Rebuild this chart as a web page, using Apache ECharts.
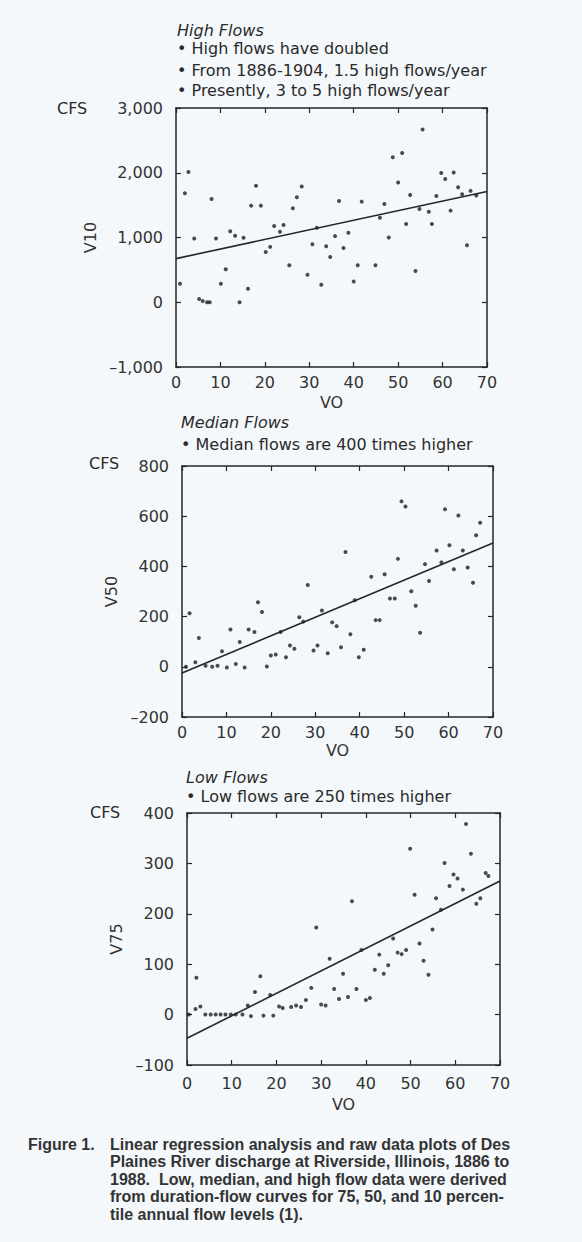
<!DOCTYPE html>
<html>
<head>
<meta charset="utf-8">
<script src="https://cdn.jsdelivr.net/npm/echarts@6/dist/echarts.min.js"></script>
<style>
html,body{margin:0;padding:0;background:#f4f8fb;}
#chart{width:582px;height:1242px;}
</style>
</head>
<body>
<div id="chart"></div>
<script>
// ---------- data ----------
const voHigh = [2.8,2.0,0.9,4.1,5.2,6.0,7.0,7.6,8.0,9.0,10.1,11.2,12.2,13.3,14.3,15.2,16.2,16.9,18.0,19.1,20.2,21.2,22.1,23.4,24.2,25.5,26.3,27.2,28.3,29.6,30.7,31.7,32.7,33.8,34.7,35.8,36.7,37.7,38.8,40.0,40.9,41.8,44.9,45.9,46.9,47.9,48.8,50.0,50.9,51.8,52.7,53.9,54.8,55.5,56.9,57.6,58.6,59.7,60.6,61.8,62.5,63.5,64.4,65.5,66.3,67.6];
const v10 = [2010,1684,285,984,50,20,0,0,1596,984,285,508,1098,1026,0,995,207,1492,1798,1492,777,855,1176,1088,1192,570,1451,1622,1787,425,896,1150,269,865,700,1021,1565,839,1073,321,570,1554,570,1306,1518,1000,2238,1850,2306,1207,1658,482,1440,2668,1399,1207,1642,1995,1902,1415,2005,1777,1668,881,1720,1648];

const voMed = [1.7,0.9,3.0,3.8,5.3,6.8,8.0,9.0,10.1,10.9,12.1,13.0,14.1,15.0,16.3,17.1,18.0,19.1,20.0,21.1,22.2,23.4,24.3,25.3,26.4,27.3,28.3,29.6,30.5,31.5,32.8,33.8,34.8,35.8,36.8,37.9,38.9,39.8,40.9,42.6,43.6,44.5,45.6,46.8,47.9,48.6,49.4,50.3,51.6,52.6,53.6,54.7,55.6,57.3,58.4,59.2,60.2,61.2,62.2,63.2,64.3,65.5,66.2,67.1];
const v50 = [213,0,18,115,4,0,4,62,-3,149,11,99,-3,149,139,257,218,1,45,49,139,38,85,72,197,180,326,65,85,224,54,177,162,78,457,130,265,38,68,359,186,186,369,272,272,430,659,639,301,243,136,409,342,463,416,628,484,389,603,463,396,335,524,574];

const voLow = [2.1,0.4,1.9,3.0,4.1,5.3,6.4,7.5,8.6,9.8,10.9,12.4,13.6,14.3,15.2,16.4,17.1,18.6,19.3,20.6,21.4,23.3,24.4,25.5,26.6,27.8,28.9,30.0,31.0,31.9,32.9,34.0,34.9,36.0,36.9,37.9,39.0,40.0,40.9,42.0,43.0,44.0,45.0,46.1,47.1,48.0,49.0,49.9,50.9,52.0,52.9,54.0,54.9,55.7,56.8,57.6,58.7,59.6,60.5,61.7,62.4,63.5,64.7,65.6,66.8,67.4];
const v75 = [73,0,11,16,0,0,0,0,0,0,0,0,18,-3,45,76,-2,39,-2,16,13,15,18,15,29,53,173,20,18,111,51,31,81,35,225,51,128,29,33,89,119,81,98,151,123,120,128,329,238,141,107,79,169,231,208,301,255,278,270,248,378,319,220,231,281,275];

const fitX = [0, 70];
const fitHigh = [674, 1710];
const fitMed = [-25, 493];
const fitLow = [-47, 265];

const xTicks = {min: 0, max: 70, interval: 10};
const yHigh = {min: -1000, max: 3000, interval: 1000};
const yMed = {min: -200, max: 800, interval: 200};
const yLow = {min: -100, max: 400, interval: 100};

const headerHigh = ['High Flows', '• High flows have doubled', '• From 1886-1904, 1.5 high flows/year', '• Presently, 3 to 5 high flows/year'];
const headerMed = ['Median Flows', '• Median flows are 400 times higher'];
const headerLow = ['Low Flows', '• Low flows are 250 times higher'];
const captionHead = 'Figure 1.';
const captionLines = [
  'Linear regression analysis and raw data plots of Des',
  'Plaines River discharge at Riverside, Illinois, 1886 to',
  '1988.  Low, median, and high flow data were derived',
  'from duration-flow curves for 75, 50, and 10 percen-',
  'tile annual flow levels (1).'
];

// ---------- layout ----------
const FONT = 'DejaVu Sans';
const INK = '#262626';
const grids = [
  {left: 176, top: 108, width: 311, height: 259},
  {left: 182, top: 466, width: 311, height: 251},
  {left: 187, top: 813, width: 313, height: 252}
];
const yNames = ['V10', 'V50', 'V75'];
const yScales = [yHigh, yMed, yLow];
const xNameGaps = [27, 25, 31];
const xLabelMargins = [7, 7, 10];

function fmtNum(v) {
  const s = Math.abs(v).toLocaleString('en-US');
  return v < 0 ? '\u2013' + s : s;
}

const xAxes = [], yAxes = [];
grids.forEach((g, i) => {
  const line = {show: true, onZero: false, lineStyle: {color: INK, width: 1.5}};
  const tick = {show: true, inside: true, length: 5, lineStyle: {color: INK, width: 1.2}};
  xAxes.push({
    type: 'value', gridIndex: i, position: 'bottom',
    min: xTicks.min, max: xTicks.max, interval: xTicks.interval,
    axisLine: line, splitLine: {show: false}, axisTick: tick,
    axisLabel: {show: true, margin: xLabelMargins[i], fontFamily: FONT, fontSize: 16, color: '#333'},
    name: 'VO', nameLocation: 'middle', nameGap: xNameGaps[i],
    nameTextStyle: {fontFamily: FONT, fontSize: 16, color: '#333'}
  });
  xAxes.push({
    type: 'value', gridIndex: i, position: 'top',
    min: xTicks.min, max: xTicks.max, interval: xTicks.interval,
    axisLine: line, splitLine: {show: false}, axisTick: tick,
    axisLabel: {show: false}
  });
  const ys = yScales[i];
  yAxes.push({
    type: 'value', gridIndex: i, position: 'left',
    min: ys.min, max: ys.max, interval: ys.interval,
    axisLine: line, splitLine: {show: false}, axisTick: tick,
    axisLabel: {show: true, margin: 13, fontFamily: FONT, fontSize: 16, color: '#333', formatter: fmtNum},
    name: yNames[i], nameLocation: 'middle', nameGap: 62, nameRotate: 90,
    nameTextStyle: {fontFamily: FONT, fontSize: 16, color: '#333'}
  });
  yAxes.push({
    type: 'value', gridIndex: i, position: 'right',
    min: ys.min, max: ys.max, interval: ys.interval,
    axisLine: line, splitLine: {show: false}, axisTick: tick,
    axisLabel: {show: false}
  });
});

function pairs(xs, ys) { return xs.map((x, k) => [x, ys[k]]); }

const scatterSets = [[voHigh, v10], [voMed, v50], [voLow, v75]];
const fitSets = [fitHigh, fitMed, fitLow];
const series = [];
scatterSets.forEach((s, i) => {
  series.push({
    type: 'scatter', xAxisIndex: 2 * i, yAxisIndex: 2 * i,
    data: pairs(s[0], s[1]), symbol: 'circle', symbolSize: 4,
    itemStyle: {color: '#1e1e1e'}, silent: true
  });
  series.push({
    type: 'line', xAxisIndex: 2 * i, yAxisIndex: 2 * i,
    data: pairs(fitX, fitSets[i]), symbol: 'none',
    lineStyle: {color: INK, width: 1.6}, silent: true
  });
});

// ---------- text graphics ----------
const graphic = [];
function txt(x, y, text, opts) {
  graphic.push({
    type: 'text', left: x, top: y,
    style: Object.assign({text: text, fill: '#2a2a2a', font: '16px "' + FONT + '"'}, opts || {})
  });
}
const headerSpecs = [
  {x: 177, ys: [22, 40, 62, 82], lines: headerHigh},
  {x: 181, ys: [414, 436], lines: headerMed},
  {x: 186, ys: [769, 788], lines: headerLow}
];
headerSpecs.forEach(h => {
  h.lines.forEach((t, k) => {
    txt(h.x, h.ys[k], t, k === 0 ? {font: 'italic 16px "' + FONT + '"'} : {});
  });
});
txt(57, 100, 'CFS');
txt(89, 455, 'CFS');
txt(90, 804, 'CFS');
const CAP_FONT = 'bold 16px "Liberation Sans"';
txt(28, 1136, captionHead, {font: CAP_FONT, fill: '#333'});
captionLines.forEach((t, k) => {
  txt(110, 1136 + k * 17.5, t, {font: CAP_FONT, fill: '#333'});
});

const chart = echarts.init(document.getElementById('chart'), null, {renderer: 'svg', width: 582, height: 1242});
chart.setOption({
  backgroundColor: '#f4f8fb',
  animation: false,
  grid: grids.map(g => Object.assign({containLabel: false}, g)),
  xAxis: xAxes,
  yAxis: yAxes,
  series: series,
  graphic: graphic
});
</script>
</body>
</html>
